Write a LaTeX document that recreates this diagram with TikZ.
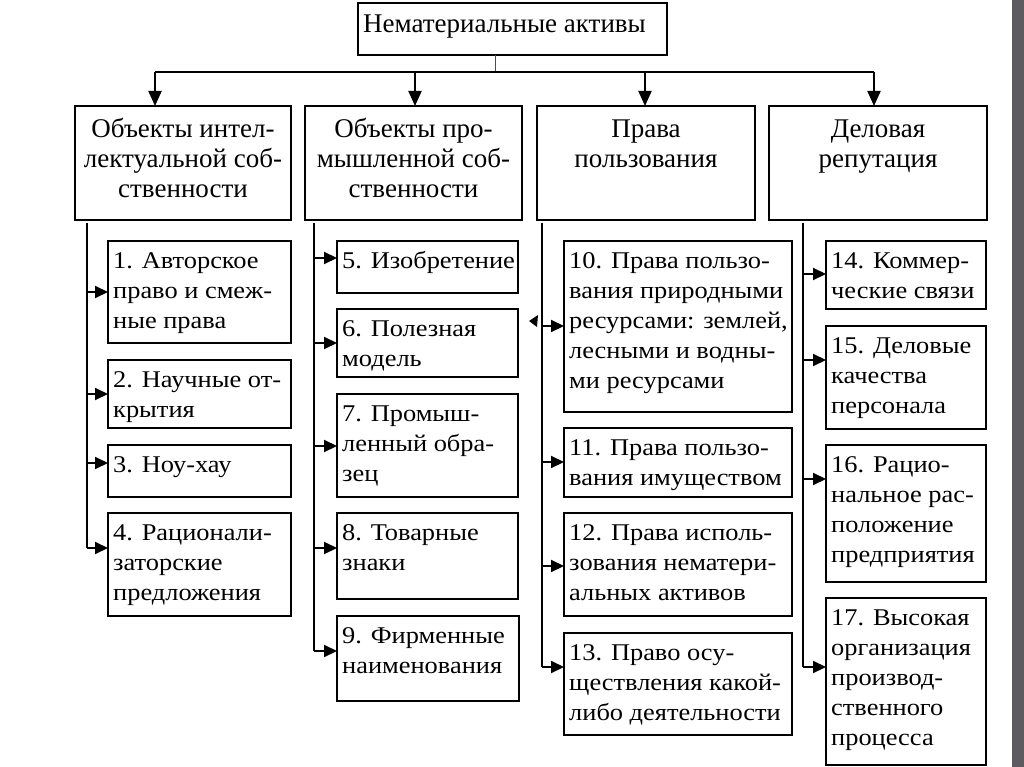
\documentclass[tikz,border=0pt]{standalone}
\usepackage{fontspec}
\setmainfont{Liberation Serif}
\newfontfamily\widefont[FakeStretch=1.1]{Liberation Serif}
\usetikzlibrary{arrows.meta,calc}
\definecolor{barcol}{HTML}{5E5A61}
\tikzset{
  box/.style={draw, line width=1.7pt, anchor=north west, inner sep=0pt, outer sep=0pt},
  ctext/.style={anchor=north west, inner sep=0pt, align=left,
    font=\widefont\fontsize{24}{30}\selectfont},
  htext/.style={anchor=north, inner sep=0pt, align=center,
    font=\fontsize{27}{30}\selectfont},
  arr/.style={line width=2pt, -{Triangle[length=13pt,width=12pt]}},
  bigarr/.style={line width=2pt, -{Triangle[length=15pt,width=13pt]}},
  branch/.style={line width=1.6pt},
  thin/.style={line width=0.8pt, black!70},
}
\newcommand\fst{\rule{0pt}{22pt}}
% name, x1, y1, x2, y2, text
\newcommand\cbx[6]{%
  \node[box, minimum width={(#4-#2)*1pt}, minimum height={(#5-#3)*1pt}] (#1) at (#2,#3) {};
  \node[ctext] at ($(#1.north west)+(5,5)$) {\fst#6};
}
\newcommand\hbx[6]{%
  \node[box, minimum width={(#4-#2)*1pt}, minimum height={(#5-#3)*1pt}] (#1) at (#2,#3) {};
  \node[htext] at ($(#1.north)+(0,9)$) {\fst#6};
}
\begin{document}
\begin{tikzpicture}[x=1pt,y=-1pt]
\useasboundingbox[fill=white] (0,0) rectangle (1024,767);
\fill[barcol] (1012,0) rectangle (1024,767);

% top box
\node[box, minimum width=309pt, minimum height=52pt] (top) at (358,3) {};
\node[htext, anchor=base] at ($(top.north)+(-8,30)$) {Нематериальные активы};

% level 2
\hbx{l1}{75}{106}{291}{220}{Объекты интел-\\лектуальной соб-\\ственности}
\hbx{l2}{305}{106}{522}{220}{Объекты про-\\мышленной соб-\\ственности}
\hbx{l3}{537}{106}{755}{220}{Права\\пользования}
\hbx{l4}{769}{106}{987}{220}{Деловая\\репутация}

% top connectors
\coordinate (j) at (495,72);
\coordinate (h1) at (155,72);
\coordinate (h2) at (415,72);
\coordinate (h3) at (645,72);
\coordinate (h4) at (874,72);
\draw[thin] (j |- top.south) -- (j);
\draw[line width=2pt] (h1) -- (h4);
\draw[bigarr] (h1) -- (h1 |- l1.north);
\draw[bigarr] (h2) -- (h2 |- l2.north);
\draw[bigarr] (h3) -- (h3 |- l3.north);
\draw[bigarr] (h4) -- (h4 |- l4.north);

% column 1
\cbx{c1}{108}{241}{291}{343}{1. Авторское\\право и смеж-\\ные права}
\cbx{c2}{108}{360}{291}{428}{2. Научные от-\\крытия}
\cbx{c3}{108}{445}{291}{497}{3. Ноу-хау}
\cbx{c4}{108}{513}{291}{616}{4. Рационали-\\заторские\\предложения}
% column 2
\cbx{c5}{337}{241}{518}{293}{5. Изобретение}
\cbx{c6}{337}{309}{518}{377}{6. Полезная\\модель}
\cbx{c7}{337}{394}{518}{497}{7. Промыш-\\ленный обра-\\зец}
\cbx{c8}{337}{513}{518}{599}{8. Товарные\\знаки}
\cbx{c9}{337}{616}{519}{701}{9. Фирменные\\наименования}
% column 3
\cbx{c10}{564}{241}{792}{412}{10. Права пользо-\\вания природными\\ресурсами: землей,\\лесными и водны-\\ми ресурсами}
\cbx{c11}{564}{428}{792}{497}{11. Права пользо-\\вания имуществом}
\cbx{c12}{564}{513}{792}{616}{12. Права исполь-\\зования нематери-\\альных активов}
\cbx{c13}{564}{633}{792}{735}{13. Право осу-\\ществления какой-\\либо деятельности}
% column 4
\cbx{c14}{826}{241}{986}{309}{14. Коммер-\\ческие связи}
\cbx{c15}{826}{326}{986}{429}{15. Деловые\\качества\\персонала}
\cbx{c16}{826}{445}{986}{582}{16. Рацио-\\нальное рас-\\положение\\предприятия}
\cbx{c17}{826}{598}{986}{765}{17. Высокая\\организация\\производ-\\ственного\\процесса}

% branches
\coordinate (b1s) at (87,223);  \coordinate (b1e) at (87,548);
\coordinate (b2s) at (314,223); \coordinate (b2e) at (314,651);
\coordinate (b3s) at (542,223); \coordinate (b3e) at (542,667);
\coordinate (b4s) at (803,223); \coordinate (b4e) at (803,667);
\draw[branch] (b1s) -- (b1e);
\draw[branch] (b2s) -- (b2e);
\draw[branch] (b3s) -- (b3e);
\draw[branch] (b4s) -- (b4e);

% child arrows
\foreach \n/\x/\y in {c1/87/292, c2/87/394, c3/87/463, c4/87/548,
  c5/314/258, c6/314/343, c7/314/446, c8/314/548, c9/314/651,
  c10/542/326, c11/542/462, c12/542/566, c13/542/667,
  c14/803/274, c15/803/360, c16/803/479, c17/803/667}{
  \coordinate (s\n) at (\x,\y);
  \draw[arr] (s\n) -- (s\n -| \n.west);
}
% stray arrowhead near column 3
\fill (529,321) -- (538,315) -- (537,327) -- cycle;
\end{tikzpicture}
\end{document}
